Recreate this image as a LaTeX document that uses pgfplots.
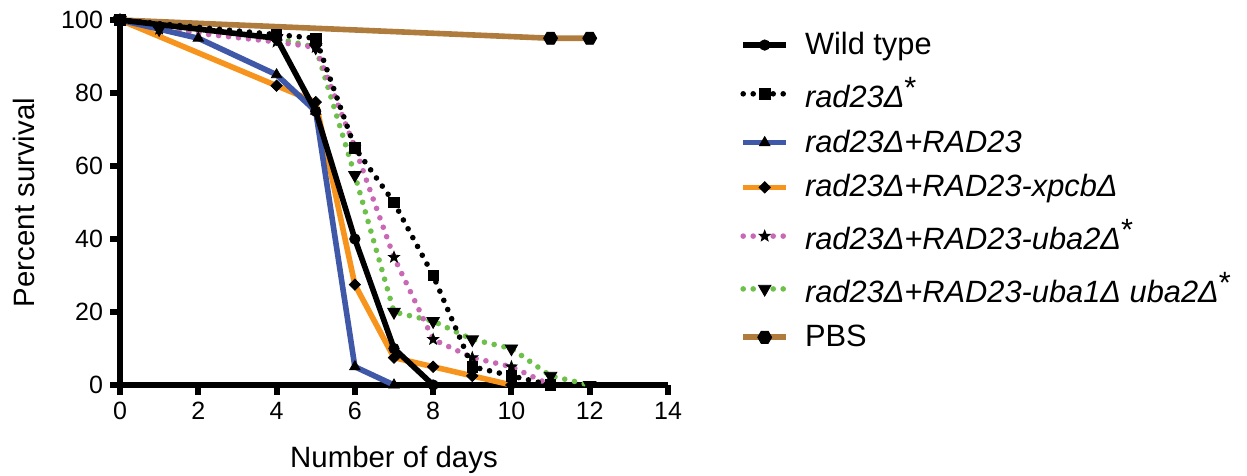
\documentclass[border=0pt]{standalone}
\usepackage{fontspec}
\setmainfont{Liberation Sans}
\usepackage{pgfplots}
\pgfplotsset{compat=1.18}
\usetikzlibrary{plotmarks}

\definecolor{rblue}{HTML}{3F58A8}
\definecolor{rorange}{HTML}{F7941D}
\definecolor{rpink}{HTML}{C969B5}
\definecolor{rgreen}{HTML}{6DC04A}
\definecolor{rbrown}{HTML}{B07C3E}

\tikzset{
    dots/.style={line cap=round, dash pattern=on 0pt off 5pt},
    mk/.style={solid, fill=black, draw=black, line width=0.4pt},
}

% filled five-pointed star
\pgfdeclareplotmark{fstar}{%
  \pgfpathmoveto{\pgfpointpolar{90}{\pgfplotmarksize}}%
  \pgfpathlineto{\pgfpointpolar{126}{0.42\pgfplotmarksize}}%
  \pgfpathlineto{\pgfpointpolar{162}{\pgfplotmarksize}}%
  \pgfpathlineto{\pgfpointpolar{198}{0.42\pgfplotmarksize}}%
  \pgfpathlineto{\pgfpointpolar{234}{\pgfplotmarksize}}%
  \pgfpathlineto{\pgfpointpolar{270}{0.42\pgfplotmarksize}}%
  \pgfpathlineto{\pgfpointpolar{306}{\pgfplotmarksize}}%
  \pgfpathlineto{\pgfpointpolar{342}{0.42\pgfplotmarksize}}%
  \pgfpathlineto{\pgfpointpolar{18}{\pgfplotmarksize}}%
  \pgfpathlineto{\pgfpointpolar{54}{0.42\pgfplotmarksize}}%
  \pgfpathclose\pgfusepathqfillstroke}
% filled hexagon
\pgfdeclareplotmark{hexagon*}{%
  \pgfpathmoveto{\pgfpointpolar{0}{\pgfplotmarksize}}%
  \pgfpathlineto{\pgfpointpolar{60}{\pgfplotmarksize}}%
  \pgfpathlineto{\pgfpointpolar{120}{\pgfplotmarksize}}%
  \pgfpathlineto{\pgfpointpolar{180}{\pgfplotmarksize}}%
  \pgfpathlineto{\pgfpointpolar{240}{\pgfplotmarksize}}%
  \pgfpathlineto{\pgfpointpolar{300}{\pgfplotmarksize}}%
  \pgfpathclose\pgfusepathqfillstroke}

\newcommand{\supast}{\raisebox{0.3em}{*}}

\begin{document}
\begin{tikzpicture}
\begin{axis}[
    scale only axis,
    width=274pt, height=182.5pt,
    xmin=0, xmax=14, ymin=0, ymax=100,
    axis lines=left,
    axis line style={-, line width=3pt},
    xtick={0,2,...,14}, ytick={0,20,...,100},
    tick align=outside,
    major tick length=5pt,
    tick style={line width=3pt, black},
    ticklabel style={font=\fontsize{12.5}{15}\selectfont},
    /pgf/number format/assume math mode=true,
    xlabel={Number of days},
    ylabel={Percent survival},
    label style={font=\fontsize{14.7}{17}\selectfont},
    xlabel style={at={(axis description cs:0.5,-0.2247)}, anchor=base},
    ylabel style={at={(axis description cs:-0.1752,0.5)}, anchor=center},
    clip=false,
    reverse legend,
    legend cell align=left,
    legend style={at={(1,1)}, anchor=north west, xshift=36pt, yshift=-4pt,
        draw=none, fill=none, font=\fontsize{15.4}{18}\selectfont,
        row sep=5.7pt, column sep=6pt, inner sep=0pt},
    legend image code/.code={%
        \draw[mark repeat=2, mark phase=2, #1]
            plot coordinates {(0pt,0pt) (10.75pt,0pt) (21.5pt,0pt)};},
    every axis plot/.append style={line width=2.8pt},
]
\coordinate (o) at (axis cs:0,0);

% PBS
\addplot[rbrown, mark=hexagon*, mark size=3.5pt, mark indices={2,3},
    mark options={mk}, legend image post style={mark indices={2}}]
    coordinates {(0,100) (11,95) (12,95)};
\addlegendentry{PBS}

% rad23D + RAD23-uba1D uba2D
\addplot[rgreen, dots, mark=triangle*, mark size=3.6pt,
    mark options={mk, rotate=180}]
    coordinates {(0,100) (1,97.5) (4,95) (5,92.5) (6,57.5) (7,20) (8,17.5)
                 (9,12.5) (10,10) (11,2.5) (12,0)};
\addlegendentry{\textit{rad23Δ+RAD23-uba1Δ uba2Δ}\supast}

% rad23D + RAD23-uba2D
\addplot[rpink, dots, mark=fstar, mark size=2.9pt, mark options={mk}]
    coordinates {(0,100) (1,97.5) (4,94) (5,92.5) (6,65) (7,35) (8,12.5)
                 (9,7.5) (10,5) (11,0)};
\addlegendentry{\textit{rad23Δ+RAD23-uba2Δ}\supast}

% rad23D + RAD23-xpcbD
\addplot[rorange, mark=square*, mark size=2pt, mark options={mk, rotate=45}]
    coordinates {(0,100) (4,82) (5,77.5) (6,27.5) (7,7.5) (8,5) (9,2.5) (10,0)};
\addlegendentry{\textit{rad23Δ+RAD23-xpcbΔ}}

% rad23D + RAD23
\addplot[rblue, mark=triangle*, mark size=3pt, mark options={mk}]
    coordinates {(0,100) (2,95) (4,85) (5,75) (6,5) (7,0)};
\addlegendentry{\textit{rad23Δ+RAD23}}

% rad23D
\addplot[black, dots, mark=square*, mark size=2.6pt, mark options={mk}]
    coordinates {(0,100) (4,96) (5,95) (6,65) (7,50) (8,30) (9,5) (10,2.5) (11,0)};
\addlegendentry{\textit{rad23Δ}\supast}

% Wild type
\addplot[black, mark=*, mark size=2.6pt, mark options={mk}]
    coordinates {(0,100) (4,95) (5,75) (6,40) (7,10) (8,0)};
\addlegendentry{Wild type}

\end{axis}
\pgfresetboundingbox
\path ([xshift=-60pt, yshift=-45.5pt]o) rectangle ([xshift=563.5pt, yshift=192.5pt]o);
\end{tikzpicture}
\end{document}
